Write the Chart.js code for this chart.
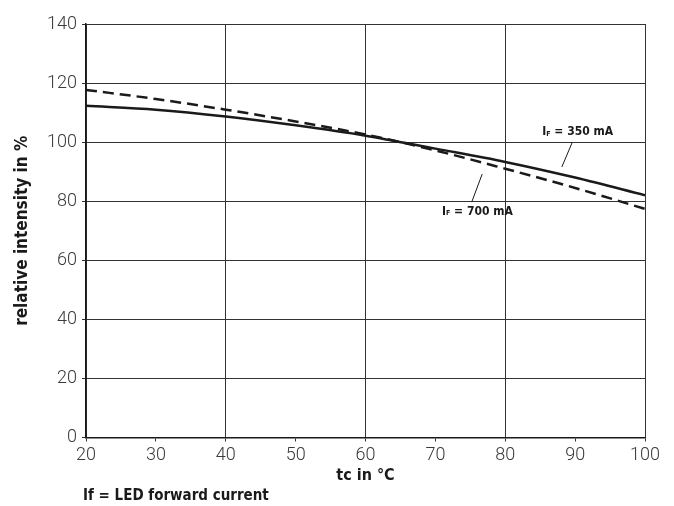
<!DOCTYPE html>
<html>
<head>
<meta charset="utf-8">
<script src="https://cdn.jsdelivr.net/npm/chart.js@4.4.1/dist/chart.umd.min.js"></script>
<style>
  html, body { margin: 0; padding: 0; background: #fff; }
  #wrap { width: 674px; height: 506px; }
</style>
</head>
<body>
<div id="wrap"><canvas id="c" width="674" height="506"></canvas></div>
<script>
// temperature tc in °C
const tempC = [20, 30, 40, 50, 60, 70, 80, 90, 100];
// relative intensity in %
const current350 = [112.3, 111, 108.7, 105.7, 102.2, 97.8, 93.3, 88, 82];
const current700 = [117.7, 114.6, 111, 107, 102.6, 97.2, 91, 84.5, 77.4];

const yTicks = [0, 20, 40, 60, 80, 100, 120, 140];

// label text, anchor and leader line, in data units
const notes = [
  { sub: "F", text: " = 350 mA", at: [85.3, 103.4], line: [[89.6, 100.0], [88.1, 91.6]] },
  { sub: "F", text: " = 700 mA", at: [70.95, 76.5], line: [[76.7, 89.2], [75.2, 79.7]] },
];
const footnote = "If = LED forward current";

const BOLD = "'DejaVu Sans Condensed', 'Liberation Sans', sans-serif";
const LIGHT = "Roboto, 'Liberation Sans', sans-serif";
const INK = "#1a1a1a";

const toPts = (vals) => tempC.map((t, i) => ({ x: t, y: vals[i] }));

const notesPlugin = {
  id: "notes",
  afterDraw(chart) {
    const { ctx, scales } = chart;
    const xs = scales.x, ys = scales.y;
    ctx.save();
    ctx.strokeStyle = INK;
    ctx.fillStyle = INK;
    ctx.lineWidth = 1;
    for (const n of notes) {
      ctx.beginPath();
      ctx.moveTo(xs.getPixelForValue(n.line[0][0]), ys.getPixelForValue(n.line[0][1]));
      ctx.lineTo(xs.getPixelForValue(n.line[1][0]), ys.getPixelForValue(n.line[1][1]));
      ctx.stroke();

      let px = xs.getPixelForValue(n.at[0]);
      const py = ys.getPixelForValue(n.at[1]);
      ctx.textBaseline = "middle";
      ctx.textAlign = "left";
      ctx.font = "bold 12px " + BOLD;
      ctx.fillText("I", px, py);
      px += ctx.measureText("I").width;
      ctx.font = "bold 7px " + BOLD;
      ctx.fillText(n.sub, px, py + 2);
      px += ctx.measureText(n.sub).width;
      ctx.font = "bold 12px " + BOLD;
      ctx.fillText(n.text, px, py);
    }
    ctx.font = "bold 15px " + BOLD;
    ctx.textAlign = "left";
    ctx.textBaseline = "middle";
    ctx.fillText(footnote, xs.left - 3, chart.height - 10);
    ctx.restore();
  },
};

new Chart(document.getElementById("c"), {
  type: "line",
  data: {
    datasets: [
      {
        label: "If = 350 mA",
        data: toPts(current350),
        borderColor: INK,
        borderWidth: 2.5,
        pointRadius: 0,
        cubicInterpolationMode: "monotone",
      },
      {
        label: "If = 700 mA",
        data: toPts(current700),
        borderColor: INK,
        borderWidth: 2.5,
        borderDash: [11, 6],
        pointRadius: 0,
        cubicInterpolationMode: "monotone",
      },
    ],
  },
  options: {
    responsive: false,
    animation: false,
    layout: { padding: { left: 0, right: 29, top: 24, bottom: 0 } },
    plugins: {
      legend: { display: false },
      tooltip: { enabled: false },
    },
    scales: {
      x: {
        type: "linear",
        min: 20,
        max: 100,
        afterFit: (s) => { s.height = 68.5; },
        ticks: {
          stepSize: 10,
          color: "#3a3a3a",
          padding: 3,
          font: { family: LIGHT, size: 18, weight: 300 },
        },
        grid: {
          color: (c) => (c.tick && c.tick.value % 20 === 0 ? "#333" : "rgba(0,0,0,0)"),
          tickColor: "#333",
          tickLength: 4,
          lineWidth: 1,
        },
        border: { color: INK, width: 1.5 },
        title: {
          display: true,
          text: "tc in °C",
          color: INK,
          font: { family: BOLD, size: 16, weight: "bold" },
          padding: { top: 0, bottom: 21 },
        },
      },
      y: {
        min: 0,
        max: 140,
        afterFit: (s) => { s.width = 86; },
        afterBuildTicks: (s) => { s.ticks = yTicks.map((v) => ({ value: v })); },
        ticks: {
          color: "#3a3a3a",
          padding: 5,
          font: { family: LIGHT, size: 18, weight: 300 },
        },
        grid: {
          color: "#333",
          tickColor: "#333",
          tickLength: 4,
          lineWidth: 1,
        },
        border: { color: INK, width: 1.5 },
        title: {
          display: true,
          text: "relative intensity in %",
          color: INK,
          font: { family: BOLD, size: 17, weight: "bold" },
          padding: { top: 12, bottom: 0 },
        },
      },
    },
  },
  plugins: [notesPlugin],
});
</script>
</body>
</html>
